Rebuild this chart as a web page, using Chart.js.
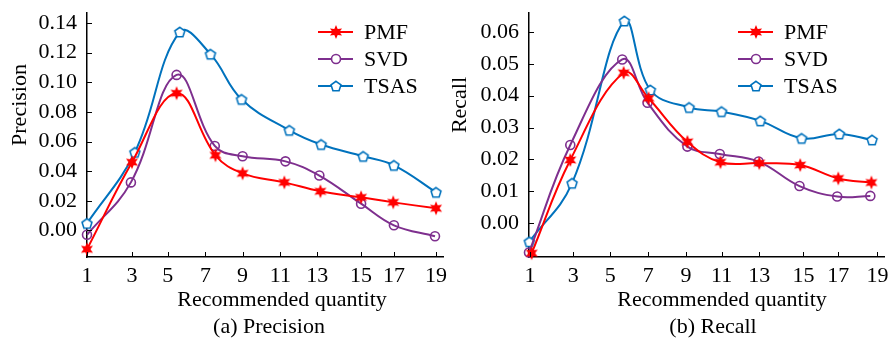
<!DOCTYPE html>
<html>
<head>
<meta charset="utf-8">
<script src="https://cdn.jsdelivr.net/npm/chart.js@4.4.1/dist/chart.umd.min.js"></script>
<style>
    body { margin: 0; background: #fff; }
    #wrap { position: relative; width: 891px; height: 339px; }
    canvas { position: absolute; top: 0; }
</style>
</head>
<body>
<div id="wrap">
    <canvas id="precisionChart" style="left:0"></canvas>
    <canvas id="recallChart" style="left:450px"></canvas>
</div>
<script>
// tick labels and where they sit along the (unevenly spaced) x axis, 0..100
const qtyLabels = ['1', '3', '5', '7', '9', '11', '13', '15', '17', '19'];
const precTickPos = [0, 12.6, 22.6, 33.2, 43.6, 54.2, 64.5, 76.8, 86.0, 97.8];
const recTickPos = [0.3, 12.4, 22.8, 33.5, 44.1, 54.1, 64.7, 77.1, 86.9, 97.9];

const precYTicks = [0, 0.02, 0.04, 0.06, 0.08, 0.10, 0.12, 0.14];
const recYTicks = [0, 0.01, 0.02, 0.03, 0.04, 0.05, 0.06];

// (a) Precision
const precPmfX = [0, 12.6, 25.1, 36.0, 43.6, 55.3, 65.4, 76.8, 85.8, 97.8];
const precPmf = [-0.0128, 0.046, 0.0926, 0.0507, 0.0385, 0.0324, 0.0264, 0.0223, 0.0189, 0.0149];
const precSvdX = [0, 12.3, 25.1, 35.8, 43.6, 55.6, 65.1, 76.8, 86.0, 97.5];
const precSvd = [-0.003, 0.0324, 0.105, 0.057, 0.050, 0.0466, 0.037, 0.018, 0.0034, -0.004];
const precTsasX = [0, 13.4, 26.0, 34.6, 43.3, 56.7, 65.6, 77.4, 86.0, 97.8];
const precTsas = [0.0047, 0.0527, 0.134, 0.119, 0.0885, 0.0676, 0.058, 0.050, 0.0439, 0.0257];

// (b) Recall
const recPmfX = [0.75, 11.6, 26.6, 33.6, 44.5, 53.8, 64.7, 76.2, 86.9, 96.2];
const recPmf = [-0.0095, 0.0198, 0.0472, 0.0392, 0.0255, 0.0191, 0.0188, 0.0182, 0.0140, 0.0127];
const recSvdX = [0, 11.6, 26.2, 33.3, 44.5, 53.6, 64.5, 76.0, 86.6, 95.9];
const recSvd = [-0.0093, 0.0245, 0.0514, 0.0378, 0.024, 0.0217, 0.0193, 0.0116, 0.0083, 0.0085];
const recTsasX = [0.1, 12.1, 26.8, 34.1, 45.0, 54.1, 65.0, 76.6, 87.2, 96.4];
const recTsas = [-0.0059, 0.0125, 0.0635, 0.0418, 0.0363, 0.035, 0.0321, 0.0266, 0.028, 0.0261];

const seriesNames = ['PMF', 'SVD', 'TSAS'];
const seriesColors = ['#ff0000', '#7e2f8e', '#0072bd'];
const FONT = '"Liberation Serif", "Times New Roman", serif';

function starImage(color) {
    const c = document.createElement('canvas');
    c.width = 16; c.height = 16;
    const g = c.getContext('2d');
    g.fillStyle = color;
    g.beginPath();
    for (let i = 0; i < 12; i++) {
        const r = i % 2 === 0 ? 7 : 3.4;
        const a = -Math.PI / 2 + i * Math.PI / 6;
        const px = 8 + r * Math.cos(a), py = 8 + r * Math.sin(a);
        i === 0 ? g.moveTo(px, py) : g.lineTo(px, py);
    }
    g.closePath();
    g.fill();
    return c;
}

function pentagonImage(color) {
    const c = document.createElement('canvas');
    c.width = 14; c.height = 14;
    const g = c.getContext('2d');
    g.strokeStyle = color;
    g.lineWidth = 1.6;
    g.fillStyle = '#fff';
    g.beginPath();
    for (let i = 0; i < 5; i++) {
        const a = -Math.PI / 2 + i * 2 * Math.PI / 5;
        const px = 7 + 5.2 * Math.cos(a), py = 7.5 + 5.2 * Math.sin(a);
        i === 0 ? g.moveTo(px, py) : g.lineTo(px, py);
    }
    g.closePath();
    g.fill();
    g.stroke();
    return c;
}

const markers = [starImage(seriesColors[0]), 'circle', pentagonImage(seriesColors[2])];

// inward tick marks, titles, caption and the line+marker legend
const decorPlugin = {
    id: 'decor',
    afterDraw(chart, args, opts) {
        const ctx = chart.ctx;
        const xs = chart.scales.x, ys = chart.scales.y;
        ctx.save();
        ctx.strokeStyle = '#000';
        ctx.lineWidth = 1;
        xs.ticks.forEach(t => {
            const px = Math.round(xs.getPixelForValue(t.value)) + 0.5;
            ctx.beginPath(); ctx.moveTo(px, xs.top); ctx.lineTo(px, xs.top - 5); ctx.stroke();
        });
        ys.ticks.forEach(t => {
            const py = Math.round(ys.getPixelForValue(t.value)) + 0.5;
            ctx.beginPath(); ctx.moveTo(ys.right, py); ctx.lineTo(ys.right + 5, py); ctx.stroke();
        });

        ctx.fillStyle = '#000';
        ctx.font = '22px ' + FONT;
        ctx.textAlign = 'center';
        ctx.textBaseline = 'middle';
        ctx.fillText(opts.xTitle, opts.xTitleX, 300);
        ctx.fillText(opts.caption, opts.captionX, 327);
        ctx.save();
        ctx.translate(opts.yTitleX, 105);
        ctx.rotate(-Math.PI / 2);
        ctx.fillText(opts.yTitle, 0, 0);
        ctx.restore();

        chart.data.datasets.forEach((ds, i) => {
            const ly = 32 + i * 27;
            ctx.strokeStyle = ds.borderColor;
            ctx.lineWidth = 2;
            ctx.beginPath();
            ctx.moveTo(opts.legendX, ly);
            ctx.lineTo(opts.legendX + 35, ly);
            ctx.stroke();
            ctx.fillStyle = '#fff';
            ctx.strokeStyle = ds.borderColor;
            ctx.lineWidth = ds.pointBorderWidth;
            Chart.helpers.drawPoint(ctx, {
                pointStyle: ds.pointStyle, rotation: 0,
                radius: ds.pointRadius, borderWidth: ds.pointBorderWidth
            }, opts.legendX + 18, ly);
            ctx.fillStyle = '#000';
            ctx.textAlign = 'left';
            ctx.fillText(ds.label, opts.legendX + 46, ly + 1);
        });
        ctx.restore();
    }
};

function buildDatasets(xsList, ysList) {
    return seriesNames.map((name, i) => ({
        label: name,
        data: xsList[i].map((x, j) => ({ x: x, y: ysList[i][j] })),
        borderColor: seriesColors[i],
        backgroundColor: '#fff',
        borderWidth: 2,
        pointStyle: markers[i],
        pointRadius: 4.5,
        pointBorderWidth: 1.6,
        pointBackgroundColor: 'rgba(255,255,255,0)',
        pointBorderColor: seriesColors[i],
        tension: 0.4,
        clip: false
    }));
}

function makeChart(id, cfg) {
    const canvas = document.getElementById(id);
    canvas.style.width = cfg.width + 'px';
    canvas.style.height = '339px';
    canvas.width = cfg.width;
    canvas.height = 339;
    return new Chart(canvas, {
        type: 'line',
        data: { datasets: buildDatasets(cfg.xs, cfg.ys) },
        options: {
            responsive: false,
            animation: false,
            devicePixelRatio: 1,
            layout: { padding: { left: 0, right: cfg.padRight, top: 13, bottom: 0 } },
            plugins: {
                legend: { display: false },
                tooltip: { enabled: false },
                decor: cfg.decor
            },
            scales: {
                x: {
                    type: 'linear',
                    min: 0,
                    max: 100,
                    grid: { display: false, drawTicks: false },
                    border: { display: true, color: '#000', width: 1.5 },
                    ticks: {
                        color: '#000',
                        font: { family: FONT, size: 22 },
                        padding: 6,
                        maxRotation: 0,
                        callback: (v, i) => qtyLabels[i]
                    },
                    afterBuildTicks: s => { s.ticks = cfg.tickPos.map(v => ({ value: v })); },
                    afterFit: s => { s.height = 82; s.paddingLeft = 0; s.paddingRight = 0; }
                },
                y: {
                    min: cfg.yMin,
                    max: cfg.yMax,
                    grid: { display: false, drawTicks: false },
                    border: { display: true, color: '#000', width: 1.5 },
                    ticks: {
                        color: '#000',
                        font: { family: FONT, size: 22 },
                        padding: 10,
                        callback: v => v.toFixed(2)
                    },
                    afterBuildTicks: s => { s.ticks = cfg.yTicks.map(v => ({ value: v })); },
                    afterFit: s => { s.width = cfg.axisLeft; s.paddingTop = 0; s.paddingBottom = 0; }
                }
            }
        },
        plugins: [decorPlugin]
    });
}

document.addEventListener('DOMContentLoaded', () => {
    makeChart('precisionChart', {
        width: 450, padRight: 5, axisLeft: 87,
        xs: [precPmfX, precSvdX, precTsasX], ys: [precPmf, precSvd, precTsas],
        tickPos: precTickPos, yTicks: precYTicks, yMin: -0.018, yMax: 0.1468,
        decor: { xTitle: 'Recommended quantity', xTitleX: 282, caption: '(a) Precision', captionX: 269,
                 yTitle: 'Precision', yTitleX: 20, legendX: 318 }
    });
    makeChart('recallChart', {
        width: 441, padRight: 4, axisLeft: 79,
        xs: [recPmfX, recSvdX, recTsasX], ys: [recPmf, recSvd, recTsas],
        tickPos: recTickPos, yTicks: recYTicks, yMin: -0.0107, yMax: 0.066,
        decor: { xTitle: 'Recommended quantity', xTitleX: 272, caption: '(b) Recall', captionX: 263,
                 yTitle: 'Recall', yTitleX: 10, legendX: 288 }
    });
});
</script>
</body>
</html>
